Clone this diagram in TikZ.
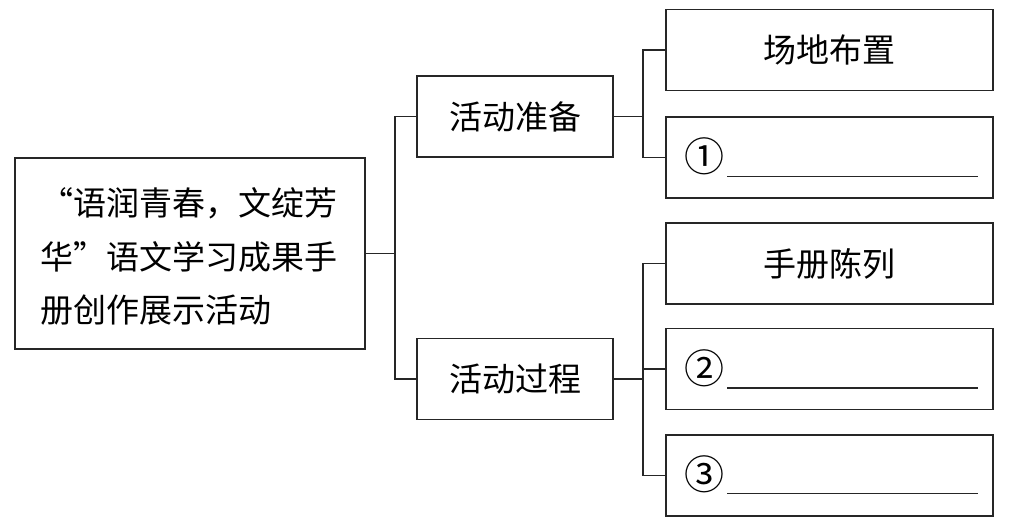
\documentclass[tikz,border=0pt]{standalone}
\usepackage{fontspec}
\newfontfamily\cjk{Noto Sans CJK SC}
\usetikzlibrary{calc}
\begin{document}
\begin{tikzpicture}[x=1pt,y=-1pt,
  every node/.style={inner sep=0pt},
  box/.style={draw=black!85, line width=1.5pt, rectangle, font=\cjk\fontsize{33}{33}\selectfont},
  midbox/.style={box, minimum width=196pt, minimum height=81pt},
  rbox/.style={box, minimum width=327pt, minimum height=81pt},
  txt/.style={font=\cjk\fontsize{33}{33}\selectfont, anchor=west},
  num/.style={font=\cjk\fontsize{40}{40}\selectfont},
  link/.style={draw=black!85, line width=1.5pt},
  blank/.style={draw=black!85, line width=1.3pt}]
\useasboundingbox[fill=white] (0,0) rectangle (1012,527);

% main box
\node[box, minimum width=350pt, minimum height=191pt] (main) at (190,253.5) {};
\node[txt] (l1) at (40,203) {“语润青春，文绽芳};
\node[txt] (l2) at (40,257) {华”语文学习成果手};
\node[txt] (l3) at (40,310) {册创作展示活动};

% middle boxes
\node[midbox] (prep) at (515,116.5) {活动准备};
\node[midbox] (proc) at (515,379) {活动过程};

% right boxes
\node[rbox] (r1) at (829.5,50) {场地布置};
\node[rbox] (r2) at (829.5,157.5) {};
\node[rbox] (r3) at (829.5,263.5) {手册陈列};
\node[rbox] (r4) at (829.5,369) {};
\node[rbox] (r5) at (829.5,475.5) {};

\node[num] (n1) at (704,156) {①};
\node[num] (n2) at (704,368) {②};
\node[num] (n3) at (704,474) {③};
\draw[blank] ($(r2.west)+(62,19)$) coordinate (u1a) -- ($(r2.east)+(-16,19)$) coordinate (u1b);
\draw[blank] ($(r4.west)+(62,19)$) coordinate (u2a) -- ($(r4.east)+(-16,19)$) coordinate (u2b);
\draw[blank] ($(r5.west)+(62,18)$) coordinate (u3a) -- ($(r5.east)+(-16,18)$) coordinate (u3b);

% connectors
\coordinate (jA) at (395,0);
\coordinate (jB) at (643,0);
\draw[link] (main.east) -- (main.east -| jA);
\draw[link] (prep.west) -- (prep.west -| jA) -- (proc.west -| jA) -- (proc.west);
\draw[link] (prep.east) -- (prep.east -| jB);
\draw[link] (r1.west) -- (r1.west -| jB) -- (r2.west -| jB) -- (r2.west);
\draw[link] (proc.east) -- (proc.east -| jB);
\draw[link] (r3.west) -- (r3.west -| jB) -- (r5.west -| jB) -- (r5.west);
\draw[link] (r4.west) -- (r4.west -| jB);
\end{tikzpicture}
\end{document}
